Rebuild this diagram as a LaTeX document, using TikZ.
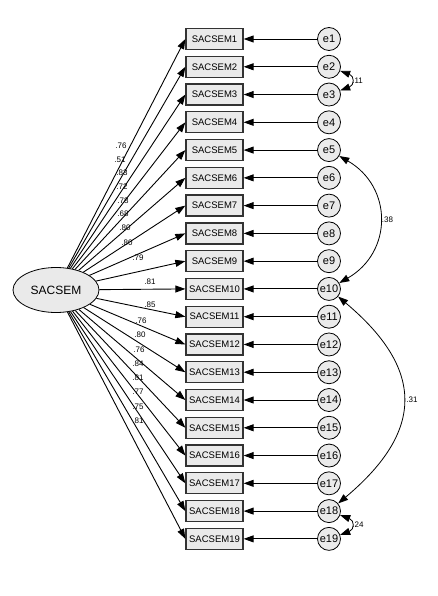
\documentclass[tikz,border=0pt]{standalone}
\usepackage{fontspec}
\setmainfont{Liberation Sans}
\usetikzlibrary{arrows.meta,shapes.geometric}
\definecolor{semgray}{RGB}{234,234,234}

\begin{document}
\begin{tikzpicture}[x=1pt,y=-1pt,
  obs/.style={draw=black!80,line width=1.3pt,fill=semgray,minimum width=57pt,minimum height=21pt,inner sep=0pt,font=\fontsize{9.5}{10}\selectfont},
  err/.style={circle,draw,line width=0.8pt,fill=semgray,minimum size=23pt,inner sep=0pt,font=\fontsize{11}{12}\selectfont},
  lat/.style={ellipse,draw,line width=0.8pt,fill=semgray,minimum width=86pt,minimum height=45pt,inner sep=0pt,font=\fontsize{12}{13}\selectfont},
  arr/.style={-{Triangle[length=10pt,width=7pt]},line width=0.9pt},
  cov/.style={{Triangle[length=10pt,width=7pt]}-{Triangle[length=10pt,width=7pt]},line width=0.8pt},
  coef/.style={font=\fontsize{8}{9}\selectfont,inner sep=0pt}]
\useasboundingbox (0,0) rectangle (438,596);
\node[lat](sacsem) at (56,290){SACSEM};
\foreach \i in {1,...,19}{
  \node[obs](v\i) at (214.5,{39+27.77*(\i-1)}){SACSEM\i};
  \node[err](e\i) at (329,{39+27.77*(\i-1)}){e\i};
  \draw[arr](e\i)--(v\i);
  \draw[arr](sacsem)--(v\i.west);
}
% standardized loadings
\foreach \val/\x/\y [count=\k] in {.76/121/146,.51/120/160,.83/122/173,.72/122/187,.78/123/201,.68/123/214,.80/125/228,.80/127/243,.79/138/258,.81/150/282,.85/150/305,.76/141/321,.80/140/335,.76/139/350,.84/138/364,.81/138/378,.77/138/392,.75/138/407,.81/138/421}
  \node[coef](c\k) at (\x,\y){\val};
% error covariances
\draw[cov](e2) to[out=-20,in=20,looseness=2] node[coef,right=1pt]{.11} (e3);
\draw[cov](e5) to[out=-30,in=30,looseness=1.25] node[coef,right=2pt]{.38} (e10);
\draw[cov](e10) to[out=-40,in=40,looseness=1.4] node[coef,right=3pt]{.31} (e18);
\draw[cov](e18) to[out=-20,in=20,looseness=2] node[coef,right=1pt]{.24} (e19);
\end{tikzpicture}
\end{document}
